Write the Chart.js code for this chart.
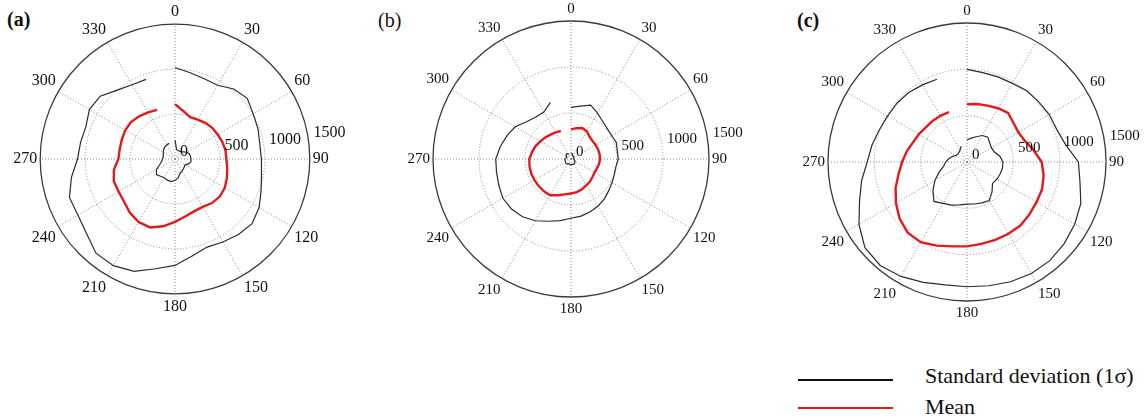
<!DOCTYPE html>
<html>
<head>
<meta charset="utf-8">
<script src="https://cdn.jsdelivr.net/npm/chart.js@4.4.1/dist/chart.umd.min.js"></script>
<style>
    html, body { margin: 0; padding: 0; background: #fff; }
    body { width: 1147px; height: 418px; position: relative; overflow: hidden; font-family: "Liberation Serif", "DejaVu Serif", serif; color: #111; }
    canvas { position: absolute; }
    .panel-tag { position: absolute; font-size: 20px; line-height: 20px; }
    .legend-line { position: absolute; width: 95px; height: 2px; }
    .legend-text { position: absolute; font-size: 22px; line-height: 22px; white-space: nowrap; }
</style>
</head>
<body>

<div class="panel-tag" style="left:7px; top:9px; font-weight:bold">(a)</div>
<div class="panel-tag" style="left:378px; top:10px">(b)</div>
<div class="panel-tag" style="left:797px; top:10px; font-weight:bold">(c)</div>

<canvas id="polar-a" width="400" height="314" style="left:-25px; top:2px"></canvas>
<canvas id="polar-b" width="400" height="318" style="left:371px; top:0px"></canvas>
<canvas id="polar-c" width="400" height="320" style="left:767px; top:2px"></canvas>

<!-- legenda -->
<div class="legend-line" style="left:798px; top:379px; background:#111"></div>
<div class="legend-line" style="left:798px; top:407px; background:#e3191c"></div>
<div class="legend-text" style="left:925px; top:365px">Standard deviation (1σ)</div>
<div class="legend-text" style="left:925px; top:396px">Mean</div>

<script>
// --- data ---

const angleLabels = ['0', '10', '20', '30', '40', '50', '60', '70', '80', '90', '100', '110',
    '120', '130', '140', '150', '160', '170', '180', '190', '200', '210', '220', '230',
    '240', '250', '260', '270', '280', '290', '300', '310', '320', '330', '340', '350'];

const radialTicks = [0, 500, 1000, 1500];

const serifFamily = "'Liberation Serif', 'DejaVu Serif', serif";

// (a)
const upperA = [1018, 975, 950, 948, 1017, 1050, 1004, 983, 958, 962, 977, 1020,
    1081, 1119, 1098, 1067, 1043, 1097, 1184, 1240, 1330, 1370, 1368, 1287,
    1248, 1250, 1170, 1085, 1067, 1055, 1100, 1087, 1000, 954, 943, null];
const meanA = [610, 540, 495, 505, 525, 540, 548, 560, 570, 572, 590, 615,
    640, 650, 640, 615, 620, 650, 700, 760, 810, 810, 780, 740,
    725, 725, 690, 630, 625, 630, 640, 640, 620, 600, 582, null];
const lowerA = [211, 105, 100, 100, 105, 125, 150, 170, 175, 178, 180, 160,
    130, 135, 145, 155, 168, 210, 240, 255, 250, 240, 250, 268,
    240, 180, 150, 140, 132, 140, 150, 165, 176, 182, 185, null];

// (b)
const upperB = [561, 584, 624, 576, 535, 514, 511, 524, 511, 514, 495, 500,
    515, 535, 565, 590, 610, 630, 644, 680, 720, 775, 820, 845,
    855, 835, 822, 818, 780, 740, 700, 630, 595, 590, 655, null];
const meanB = [322, 340, 358, 345, 315, 305, 308, 312, 315, 315, 310, 300,
    295, 305, 320, 332, 350, 365, 375, 390, 420, 455, 458, 458,
    458, 460, 458, 453, 430, 410, 385, 365, 345, 335, 324, null];
const lowerB = [55, 60, 50, 40, 35, 40, 35, 30, 25, 30, 35, 45,
    50, 55, 60, 65, 62, 60, 65, 60, 55, 60, 70, 72,
    70, 65, 68, 65, 55, 50, 60, 70, 75, 65, 55, null];

// (c)
const upperC = [1000, 980, 977, 980, 1004, 1010, 1025, 1030, 1080, 1202, 1238, 1307,
    1342, 1369, 1390, 1390, 1375, 1356, 1346, 1346, 1382, 1426, 1457, 1438,
    1346, 1234, 1155, 1077, 1042, 1008, 990, 986, 979, 961, 950, null];
const meanC = [623, 635, 648, 670, 690, 655, 640, 665, 730, 806, 840, 862,
    866, 880, 895, 895, 895, 898, 910, 925, 960, 1000, 995, 950,
    885, 820, 750, 700, 660, 620, 600, 580, 578, 575, 573, null];
const lowerC = [238, 262, 290, 330, 350, 320, 305, 315, 360, 388, 388, 380,
    372, 360, 420, 480, 470, 460, 454, 470, 495, 515, 555, 480,
    400, 320, 255, 230, 200, 170, 140, 130, 135, 150, 182, null];

// --- rótulos radiais (0, 500, 1000, 1500) ao lado do eixo, como no polar do MATLAB ---
const radialTickLabels = {
    id: 'radialTickLabels',
    afterDatasetsDraw: function(chart) {
        const scale = chart.scales.r;
        const ctx = chart.ctx;
        const size = chart.options.scales.r.pointLabels.font.size;
        const angle = 82 * Math.PI / 180;
        ctx.save();
        ctx.font = size + 'px ' + serifFamily;
        ctx.fillStyle = '#111';
        ctx.textAlign = 'left';
        ctx.textBaseline = 'middle';
        radialTicks.forEach(value => {
            const d = scale.getDistanceFromCenterForValue(value);
            ctx.fillText(String(value), scale.xCenter + d * Math.sin(angle) + 5, scale.yCenter - d * Math.cos(angle) - 7);
        });
        ctx.restore();
    }
};

function renderPolar(canvasId, upper, mean, lower, fontSize) {
    const ctx = document.getElementById(canvasId).getContext('2d');
    return new Chart(ctx, {
        type: 'radar',
        data: {
            labels: angleLabels,
            datasets: [
                { label: 'Standard deviation (1σ)', data: upper, borderColor: '#2b2b2b', borderWidth: 1.2 },
                { label: 'Mean', data: mean, borderColor: '#e3191c', borderWidth: 2.4 },
                { label: 'Standard deviation (1σ)', data: lower, borderColor: '#2b2b2b', borderWidth: 1.2 }
            ]
        },
        options: {
            responsive: false,
            animation: false,
            devicePixelRatio: 1,
            spanGaps: false,
            elements: {
                point: { radius: 0, hoverRadius: 0 },
                line: { tension: 0, fill: false }
            },
            plugins: {
                legend: { display: false },
                tooltip: { enabled: false }
            },
            scales: {
                r: {
                    min: 0,
                    max: 1500,
                    ticks: { display: false, stepSize: 500 },
                    grid: {
                        circular: true,
                        color: c => c.index === 3 ? '#3a3a3a' : '#8a8a8a',
                        lineWidth: c => c.index === 3 ? 1.3 : 1
                    },
                    border: { dash: c => c.index === 3 ? [] : [1, 2] },
                    angleLines: {
                        color: c => c.index % 3 === 0 ? '#8a8a8a' : 'rgba(0,0,0,0)',
                        borderDash: [1, 2]
                    },
                    pointLabels: {
                        padding: 3,
                        color: '#111',
                        font: { family: serifFamily, size: fontSize },
                        callback: (label, i) => i % 3 === 0 ? label : ''
                    }
                }
            }
        },
        plugins: [radialTickLabels]
    });
}

renderPolar('polar-a', upperA, meanA, lowerA, 16);
renderPolar('polar-b', upperB, meanB, lowerB, 15);
renderPolar('polar-c', upperC, meanC, lowerC, 15);
</script>
</body>
</html>
